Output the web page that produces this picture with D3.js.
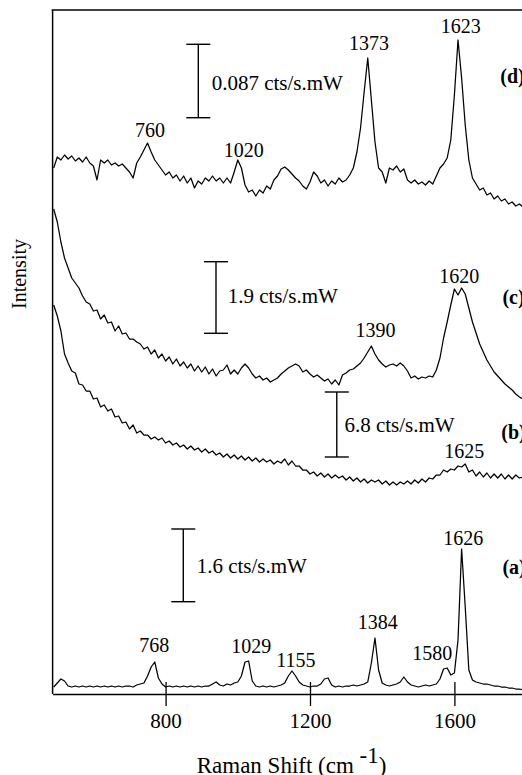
<!DOCTYPE html>
<html><head><meta charset="utf-8">
<script src="https://cdn.jsdelivr.net/npm/d3@7"></script>
<style>
body{margin:0;background:#fff}
svg{display:block}
text{font-family:"Liberation Serif","Times New Roman",serif;fill:#000}
</style>
</head><body>
<svg id="chart" width="522" height="775"></svg>
<script>
// Raman shift grid (cm^-1)
const wavenumbers = [490,500,510,520,530,540,550,560,570,580,
590,600,610,620,630,640,650,660,670,680,
690,700,710,720,730,740,750,760,770,780,
790,800,810,820,830,840,850,860,870,880,
890,900,910,920,930,940,950,960,970,980,
990,1000,1010,1020,1030,1040,1050,1060,1070,1080,
1090,1100,1110,1120,1130,1140,1150,1160,1170,1180,
1190,1200,1210,1220,1230,1240,1250,1260,1270,1280,
1290,1300,1310,1320,1330,1340,1350,1360,1370,1380,
1390,1400,1410,1420,1430,1440,1450,1460,1470,1480,
1490,1500,1510,1520,1530,1540,1550,1560,1570,1580,
1590,1600,1610,1620,1630,1640,1650,1660,1670,1680,
1690,1700,1710,1720,1730,1740,1750,1760,1770,1780,
1790];

// Intensities (arbitrary units, offset-stacked as in the figure)
const spectrumD = [526,537,534,539,535,538,533,536,532,537,
531,528,514,534,531,534,529,531,528,530,
526,522,516,531,537,544,551,542,534,529,
524,519,522,516,519,513,518,511,516,506,
513,510,516,513,518,513,516,511,516,511,
522,534,526,509,502,504,498,504,501,508,
505,514,518,525,527,524,520,516,513,508,
505,512,522,518,511,514,508,513,510,516,
512,514,519,526,542,566,602,636,594,552,
526,522,511,526,524,528,522,525,514,511,
514,510,512,509,513,510,518,526,530,536,
554,599,654,616,569,534,516,510,504,506,
499,501,495,498,493,495,490,492,488,490,
487];

const spectrumC = [485,472,452,436,426,416,411,406,398,392,
390,383,384,375,379,371,372,363,368,360,
361,355,355,352,350,345,347,340,344,336,
340,333,337,330,335,328,332,326,330,323,
328,322,327,320,325,318,323,324,329,320,
324,320,326,330,326,320,316,318,314,316,
312,314,316,320,323,326,328,330,328,322,
324,320,317,319,316,313,315,310,314,309,
319,321,324,325,328,331,336,342,348,340,
334,330,327,329,330,328,331,328,323,316,
318,315,317,316,318,317,324,336,356,372,
389,405,399,406,400,386,372,361,350,342,
334,328,322,318,314,310,307,304,300,297,
295];

const spectrumB = [389,378,363,340,331,323,321,310,309,303,
303,295,296,287,289,283,285,277,278,271,
272,265,269,261,263,259,259,255,257,254,
256,251,253,249,251,247,249,245,248,244,
246,242,245,241,243,239,241,237,240,236,
239,235,238,234,237,233,236,232,235,232,
234,230,233,231,235,229,233,228,228,224,
224,220,222,218,221,217,220,216,219,216,
218,214,217,213,216,212,215,211,214,212,
214,210,213,209,212,209,212,210,213,210,
214,211,215,212,216,215,219,219,224,222,
225,224,228,227,230,222,224,218,222,217,
221,216,220,216,220,215,219,215,219,216,
217];

const spectrumA = [7,11,15,13,8,7,8,7,8,7,
8,7,8,7,8,7,8,7,8,7,
8,8,7,9,10,11,18,27,32,16,
10,7,8,7,8,7,8,7,8,7,
8,7,8,8,10,12,9,8,10,9,
11,12,18,32,33,13,8,7,8,7,
8,7,8,9,11,18,23,18,12,9,
8,7,8,8,10,15,16,9,7,8,
7,8,8,9,8,9,10,12,31,56,
24,11,9,8,9,10,12,17,12,9,
8,7,8,9,8,9,10,15,25,26,
19,21,54,145,87,24,14,12,11,10,
10,9,8,8,7,7,6,6,5,5,
4];

const xTickValues = [800, 1200, 1600];

const peakLabels = [
  {text:"760",  w:756.8,  v:557},
  {text:"1020", w:1016.6, v:537.5},
  {text:"1373", w:1363.4, v:644},
  {text:"1623", w:1617.5, v:660.7},
  {text:"1620", w:1613.3, v:410.7},
  {text:"1390", w:1381.4, v:357.3},
  {text:"1625", w:1627.1, v:235.7},
  {text:"1626", w:1624.7, v:149},
  {text:"768",  w:768.4,  v:42.3},
  {text:"1029", w:1037.4, v:40.7},
  {text:"1155", w:1160.7, v:27.3},
  {text:"1384", w:1387.5, v:65},
  {text:"1580", w:1538.8, v:34}
];

const seriesLabels = [
  {text:"(d)", w:1727, v:611},
  {text:"(c)", w:1733, v:390},
  {text:"(b)", w:1730, v:255},
  {text:"(a)", w:1733, v:120}
];

const scaleBars = [
  {label:"0.087 cts/s.mW", w:890.6,  top:649.7, bottom:576.3, lw:927.7,  lv:604},
  {label:"1.9 cts/s.mW",   w:939.6,  top:432.3, bottom:360.7, lw:972,    lv:390.7},
  {label:"6.8 cts/s.mW",   w:1274.2, top:302,   bottom:237,   lw:1295.3, lv:261.8},
  {label:"1.6 cts/s.mW",   w:849,    top:165,   bottom:92.3,  lw:886.1,  lv:121.3}
];

const svg = d3.select("#chart");
const x = d3.scaleLinear().domain([487, 1800]).range([52.6, 526.6]);
const y = d3.scaleLinear().domain([0, 684]).range([694, 10]);

// frame (left + top)
svg.append("line").attr("x1", x(487)).attr("x2", x(487)).attr("y1", y(684)).attr("y2", y(0))
  .attr("stroke", "#000").attr("stroke-width", 1.5);
svg.append("line").attr("x1", x(487) - 1).attr("x2", 522).attr("y1", y(684)).attr("y2", y(684))
  .attr("stroke", "#000").attr("stroke-width", 1.5);

// bottom axis, ticks crossing the axis line
const axisG = svg.append("g").attr("transform", `translate(0,${y(0)})`)
  .call(d3.axisBottom(x).tickValues(xTickValues).tickSizeInner(12).tickSizeOuter(0).tickPadding(7).tickFormat(d3.format("d")));
axisG.select(".domain").attr("stroke-width", 1.5);
axisG.selectAll(".tick line").attr("stroke-width", 1.3);
axisG.selectAll(".tick text").style("font-size", "21px").style("font-family", '"Liberation Serif",serif');
const axisIn = svg.append("g").attr("transform", `translate(0,${y(0)})`)
  .call(d3.axisTop(x).tickValues(xTickValues).tickSizeInner(12).tickSizeOuter(0).tickFormat(""));
axisIn.select(".domain").remove();
axisIn.selectAll(".tick line").attr("stroke-width", 1.3);

// spectra
const line = d3.line().x((d, i) => x(wavenumbers[i])).y(d => y(d));
[spectrumD, spectrumC, spectrumB, spectrumA].forEach(s => {
  svg.append("path").datum(s).attr("d", line)
    .attr("fill", "none").attr("stroke", "#000").attr("stroke-width", 1.25).attr("stroke-linejoin", "round");
});

// scale bars
const capHalf = 12;
scaleBars.forEach(b => {
  const g = svg.append("g").attr("stroke", "#000").attr("stroke-width", 1.4);
  g.append("line").attr("x1", x(b.w)).attr("x2", x(b.w)).attr("y1", y(b.top)).attr("y2", y(b.bottom));
  g.append("line").attr("x1", x(b.w) - capHalf).attr("x2", x(b.w) + capHalf).attr("y1", y(b.top)).attr("y2", y(b.top));
  g.append("line").attr("x1", x(b.w) - capHalf).attr("x2", x(b.w) + capHalf).attr("y1", y(b.bottom)).attr("y2", y(b.bottom));
  svg.append("text").attr("x", x(b.lw)).attr("y", y(b.lv)).style("font-size", "21px").text(b.label);
});

// peak labels
svg.selectAll("text.peak").data(peakLabels).join("text").attr("class", "peak")
  .attr("x", d => x(d.w)).attr("y", d => y(d.v)).attr("text-anchor", "middle")
  .style("font-size", "20px").text(d => d.text);

// series labels
svg.selectAll("text.series").data(seriesLabels).join("text").attr("class", "series")
  .attr("x", d => x(d.w)).attr("y", d => y(d.v))
  .style("font-size", "20px").style("font-weight", "bold").text(d => d.text);

// axis titles
const xt = svg.append("text").attr("x", 196.7).attr("y", 772.7).style("font-size", "23px");
xt.append("tspan").text("Raman Shift (cm ");
xt.append("tspan").attr("dy", -10).text("-1");
xt.append("tspan").attr("dy", 10).text(")");
svg.append("text").attr("transform", "translate(26,274) rotate(-90)").attr("text-anchor", "middle")
  .style("font-size", "20px").text("Intensity");
</script>
</body></html>
